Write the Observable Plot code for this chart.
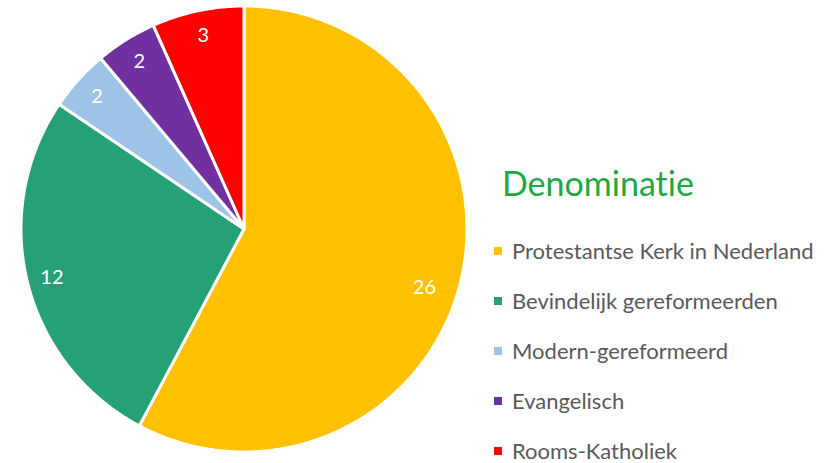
<!DOCTYPE html>
<html>
<head>
<meta charset="utf-8">
<script src="https://cdn.jsdelivr.net/npm/d3@7"></script>
<script src="https://cdn.jsdelivr.net/npm/@observablehq/plot@0.6"></script>
<style>
  html, body { margin: 0; padding: 0; background: #fff; }
  #wrap { position: relative; width: 834px; height: 463px; overflow: hidden; }
  #legend { position: absolute; left: 494px; top: 0; font-family: Lato, "Open Sans", sans-serif; font-variant-ligatures: none; }
  #legend .title { position: absolute; left: 8px; top: 163px; font-size: 34px; color: #21A843; white-space: nowrap; line-height: 1.2; }
  #legend .item { position: absolute; left: 0; white-space: nowrap; font-size: 22px; color: #595959; line-height: 1; }
  #legend .sw { display: inline-block; width: 8px; height: 8px; margin-right: 10px; vertical-align: middle; position: relative; top: -2px; }
</style>
</head>
<body>
<div id="wrap"><div id="chart"></div><div id="legend"></div></div>
<script>
const categories = ["Protestantse Kerk in Nederland", "Bevindelijk gereformeerden", "Modern-gereformeerd", "Evangelisch", "Rooms-Katholiek"];
const values = [26, 12, 2, 2, 3];
const colors = ["#FFC000", "#26A077", "#9DC3E6", "#7030A0", "#FF0000"];
const legendTitle = "Denominatie";

const pie = d3.pie().sort(null).value(d => d.value)(categories.map((c, i) => ({category: c, value: values[i]})));

// wedge outline points (angle clockwise from 12 o'clock)
const wedgePts = [];
for (const a of pie) {
  const n = Math.max(4, Math.ceil((a.endAngle - a.startAngle) / 0.01));
  for (let k = 0; k <= n; k++) {
    const t = a.startAngle + (a.endAngle - a.startAngle) * k / n;
    wedgePts.push({category: a.data.category, x: Math.sin(t), y: Math.cos(t)});
  }
}
const labels = pie.map(a => {
  const m = (a.startAngle + a.endAngle) / 2;
  const r = a.data.value > 20 ? 0.85 : 0.89;
  return {category: a.data.category, value: a.data.value, x: r * Math.sin(m), y: r * Math.cos(m), big: a.data.value > 20};
});

const cx = 244, cy = 229, R = 223;
const chart = Plot.plot({
  width: 834,
  height: 463,
  margin: 0,
  x: {domain: [-1, 1], range: [cx - R, cx + R], axis: null},
  y: {domain: [-1, 1], range: [cy + R, cy - R], axis: null},
  color: {domain: categories, range: colors},
  style: {background: "#fff"},
  marks: [
    Plot.area(wedgePts, {x1: "x", y1: "y", x2: () => 0, y2: () => 0, z: "category", fill: "category", stroke: "white", strokeWidth: 3, strokeLinejoin: "round", curve: "linear"}),
    Plot.text(labels.filter(d => !d.big), {x: "x", y: "y", text: d => String(d.value), fill: "white", fontSize: 20, fontFamily: "Lato, 'Open Sans', sans-serif"}),
    Plot.text(labels.filter(d => d.big), {x: "x", y: "y", dx: -4, dy: 12, text: d => String(d.value), fill: "white", fontSize: 20, fontFamily: "Lato, 'Open Sans', sans-serif"})
  ]
});
document.getElementById("chart").append(chart);

const leg = document.getElementById("legend");
const t = document.createElement("div");
t.className = "title"; t.textContent = legendTitle; leg.append(t);
categories.forEach((c, i) => {
  const it = document.createElement("div");
  it.className = "item";
  it.style.top = (240 + i * 50) + "px";
  const sw = document.createElement("span");
  sw.className = "sw"; sw.style.background = colors[i];
  it.append(sw, document.createTextNode(c));
  leg.append(it);
});
</script>
</body>
</html>
